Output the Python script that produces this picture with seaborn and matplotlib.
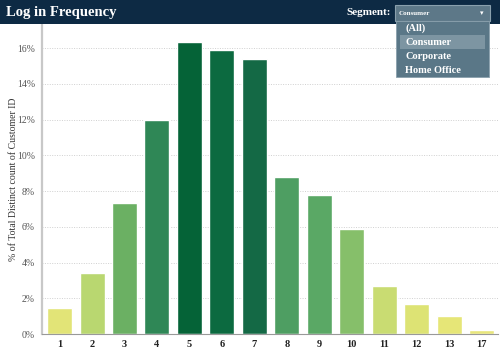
import matplotlib
matplotlib.use('Agg')
import matplotlib.pyplot as plt
import matplotlib.patches as mpatches
import seaborn as sns
import pandas as pd

# %%
# data
login_counts = ['1', '2', '3', '4', '5', '6', '7', '8', '9', '10', '11', '12', '13', '17']
pct_customers = [1.47, 3.43, 7.35, 12.0, 16.37, 15.9, 15.4, 8.8, 7.8, 5.88, 2.7, 1.7, 1.0, 0.24]
segments = ['(All)', 'Consumer', 'Corporate', 'Home Office']
selected_segment = 'Consumer'

bar_colors = ['#e2e477', '#b9d770', '#6bb063', '#2f8756', '#056337', '#0c6a40', '#146945',
              '#4e9e62', '#5aa865', '#86bf6a', '#c9dc72', '#dde374', '#e6e677', '#e8e67b']

df = pd.DataFrame({'logins': login_counts, 'pct': pct_customers})

# %%
sns.set_style('white')
plt.rcParams['font.family'] = ['Liberation Serif', 'DejaVu Serif']

fig = plt.figure(figsize=(5, 3.52), dpi=100)
ax = fig.add_axes([0.084, 0.051, 0.912, 0.878])

sns.barplot(data=df, x='logins', y='pct', hue='logins', order=login_counts,
            palette=bar_colors, legend=False, width=0.77, ax=ax, saturation=1)

ax.set_ylim(0, 17.3)
ax.set_xlim(-0.54, len(login_counts) - 0.55)
ax.set_yticks(range(0, 17, 2))
ax.set_yticklabels([f'{v}%' for v in range(0, 17, 2)], fontsize=7, color='#555555')
ax.yaxis.grid(True, linestyle=(0, (1, 1.5)), color='#d0d0d0', linewidth=0.7)
ax.set_axisbelow(True)
ax.tick_params(axis='y', length=3, width=0.6, color='#aaaaaa', pad=2)

ax.set_xticks(range(len(login_counts)))
ax.set_xticklabels(login_counts, fontsize=7.5, fontweight='bold', color='#222222')
ax.set_xticks([i + 0.5 for i in range(-1, len(login_counts))], minor=True)
ax.tick_params(axis='x', which='major', length=0, pad=4)
ax.tick_params(axis='x', which='minor', length=3, width=0.6, color='#999999')

ax.set_xlabel('')
ax.set_ylabel('% of Total Distinct count of Customer ID', fontsize=7, color='#333333')
ax.yaxis.set_label_coords(-0.053, 0.5)
for side in ['top', 'right']:
    ax.spines[side].set_visible(False)
ax.spines['left'].set_color('#c8c8c8')
ax.spines['left'].set_linewidth(1.6)
ax.spines['bottom'].set_color('#999999')
ax.spines['bottom'].set_linewidth(0.8)

# %%
# header bar
fig.patches.append(mpatches.Rectangle((0, 0.931), 1, 0.069, transform=fig.transFigure,
                                      facecolor='#0d2a44', edgecolor='none', zorder=0))
fig.text(0.012, 0.965, 'Log in Frequency', color='white', fontsize=10.5, fontweight='bold',
         va='center', ha='left')
fig.text(0.782, 0.965, 'Segment:', color='white', fontsize=8, fontweight='bold',
         va='center', ha='right')

# dropdown box
fig.patches.append(mpatches.Rectangle((0.79, 0.94), 0.19, 0.045, transform=fig.transFigure,
                                      facecolor='#5d7888', edgecolor='#8aa0ad', linewidth=0.8,
                                      zorder=5))
fig.text(0.797, 0.962, selected_segment, color='white', fontsize=5, fontweight='bold',
         va='center', ha='left', zorder=6)
fig.text(0.963, 0.962, '▾', color='white', fontsize=5, va='center', ha='center', zorder=6,
         family=['DejaVu Sans'])

# dropdown list
fig.patches.append(mpatches.Rectangle((0.792, 0.782), 0.186, 0.158, transform=fig.transFigure,
                                      facecolor='#5a7787', edgecolor='#8aa0ad', linewidth=0.6,
                                      zorder=5))
fig.patches.append(mpatches.Rectangle((0.8, 0.862), 0.17, 0.038, transform=fig.transFigure,
                                      facecolor='#7d95a2', edgecolor='none', zorder=5))
for i, seg in enumerate(segments):
    fig.text(0.81, 0.92 - i * 0.04, seg, color='white', fontsize=7.5, fontweight='bold',
             va='center', ha='left', zorder=7)

fig.savefig('out.png', dpi=100)
